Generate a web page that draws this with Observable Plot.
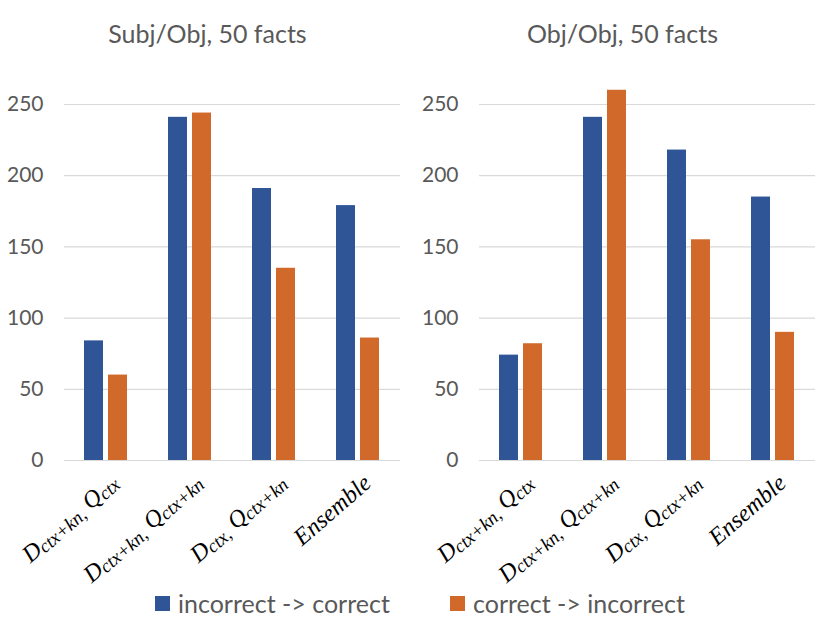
<!DOCTYPE html>
<html><head><meta charset="utf-8">
<script src="https://cdn.jsdelivr.net/npm/d3@7"></script>
<script src="https://cdn.jsdelivr.net/npm/@observablehq/plot@0.6"></script>
<style>
body{margin:0;background:#fff;width:830px;height:623px;overflow:hidden;font-family:Lato,"Open Sans",sans-serif;position:relative;}
#charts{display:flex;}
.panel{width:415px;}
.title{height:60px;box-sizing:border-box;padding-top:19px;line-height:28px;text-align:center;font-size:25px;color:#595959;}
.panel svg{display:block;}
#legend{position:absolute;left:0;top:588px;width:830px;height:30px;}
.item{position:absolute;top:0;height:30px;line-height:30px;font-size:25px;color:#595959;white-space:nowrap;}
.sw{position:absolute;top:8px;width:15px;height:15px;}
</style>
</head><body>
<div id="charts"></div>
<div id="legend"></div>
<script>
const categories = ["D_ctx+kn, Q_ctx", "D_ctx+kn, Q_ctx+kn", "D_ctx, Q_ctx+kn", "Ensemble"];
const seriesNames = ["incorrect -> correct", "correct -> incorrect"];
const colors = ["#2F5597", "#D0692A"];
const titles = ["Subj/Obj, 50 facts", "Obj/Obj, 50 facts"];
const yTicks = [0, 50, 100, 150, 200, 250];
// panel 1: Subj/Obj
const subjIncToCor = [84, 241, 191, 179];
const subjCorToInc = [60, 244, 135, 86];
// panel 2: Obj/Obj
const objIncToCor = [74, 241, 218, 185];
const objCorToInc = [82, 260, 155, 90];

function rows(a, b) {
  const out = [];
  categories.forEach((c, i) => {
    out.push({category: c, series: seriesNames[0], value: a[i]});
    out.push({category: c, series: seriesNames[1], value: b[i]});
  });
  return out;
}

// turn "D_ctx+kn, Q_ctx" into tspans with subscripts
function setLabel(textEl, str) {
  while (textEl.firstChild) textEl.removeChild(textEl.firstChild);
  const ns = "http://www.w3.org/2000/svg";
  const parts = [];
  let i = 0;
  while (i < str.length) {
    if (str[i + 1] === "_") {
      parts.push({t: str[i], sub: false});
      let j = i + 2;
      while (j < str.length && str[j] !== " ") j++;
      parts.push({t: str.slice(i + 2, j), sub: true});
      i = j;
    } else {
      let j = i;
      let s = "";
      while (j < str.length && str[j + 1] !== "_") { s += str[j]; j++; }
      if (s === "") { s = str[j]; j++; }
      parts.push({t: s, sub: false});
      i = j;
    }
  }
  let inSub = false;
  parts.forEach(p => {
    const ts = document.createElementNS(ns, "tspan");
    ts.textContent = p.t;
    if (p.sub && !inSub) { ts.setAttribute("dy", "0.12em"); inSub = true; }
    else if (!p.sub && inSub) { ts.setAttribute("dy", "-0.12em"); inSub = false; }
    if (p.sub) ts.setAttribute("font-size", "0.78em");
    textEl.appendChild(ts);
  });
}

function panel(a, b, title) {
  const div = document.createElement("div");
  div.className = "panel";
  const t = document.createElement("div");
  t.className = "title";
  t.textContent = title;
  div.appendChild(t);
  const chart = Plot.plot({
    width: 415, height: 530,
    marginTop: 44, marginBottom: 130, marginLeft: 64, marginRight: 15,
    style: {fontFamily: "Lato, 'Open Sans', sans-serif", fontSize: "20px", color: "#595959", background: "transparent"},
    fx: {domain: categories, padding: 0, label: null},
    x: {domain: seriesNames, paddingInner: 0.2, paddingOuter: 0.78, axis: null},
    y: {domain: [0, 250], label: null},
    color: {domain: seriesNames, range: colors},
    marks: [
      Plot.gridY(yTicks, {stroke: "#D9D9D9", strokeOpacity: 1, strokeWidth: 1.2}),
      Plot.axisY(yTicks, {tickSize: 0, tickPadding: 21, label: null, fontSize: 21, fill: "#595959"}),
      Plot.axisFx({anchor: "bottom", tickSize: 0, tickPadding: 0, tickRotate: -41, label: null,
                   fontSize: 24, fill: "#000", dx: 9, dy: 19}),
      Plot.barY(rows(a, b), {fx: "category", x: "series", y: "value", fill: "series"})
    ]
  });
  chart.querySelectorAll('[aria-label="fx-axis tick label"] text').forEach(el => {
    el.setAttribute("font-family", "'Liberation Serif', serif");
    el.setAttribute("font-style", "italic");
    setLabel(el, el.textContent);
  });
  div.appendChild(chart);
  return div;
}

const charts = document.getElementById("charts");
charts.appendChild(panel(subjIncToCor, subjCorToInc, titles[0]));
charts.appendChild(panel(objIncToCor, objCorToInc, titles[1]));

const legend = document.getElementById("legend");
const legendX = [155, 450];
seriesNames.forEach((s, i) => {
  const it = document.createElement("div");
  it.className = "item";
  it.style.left = legendX[i] + "px";
  const sw = document.createElement("span");
  sw.className = "sw";
  sw.style.left = "0px";
  sw.style.background = colors[i];
  const tx = document.createElement("span");
  tx.style.marginLeft = "23px";
  tx.textContent = s;
  it.appendChild(sw);
  it.appendChild(tx);
  legend.appendChild(it);
});
</script>
</body></html>
